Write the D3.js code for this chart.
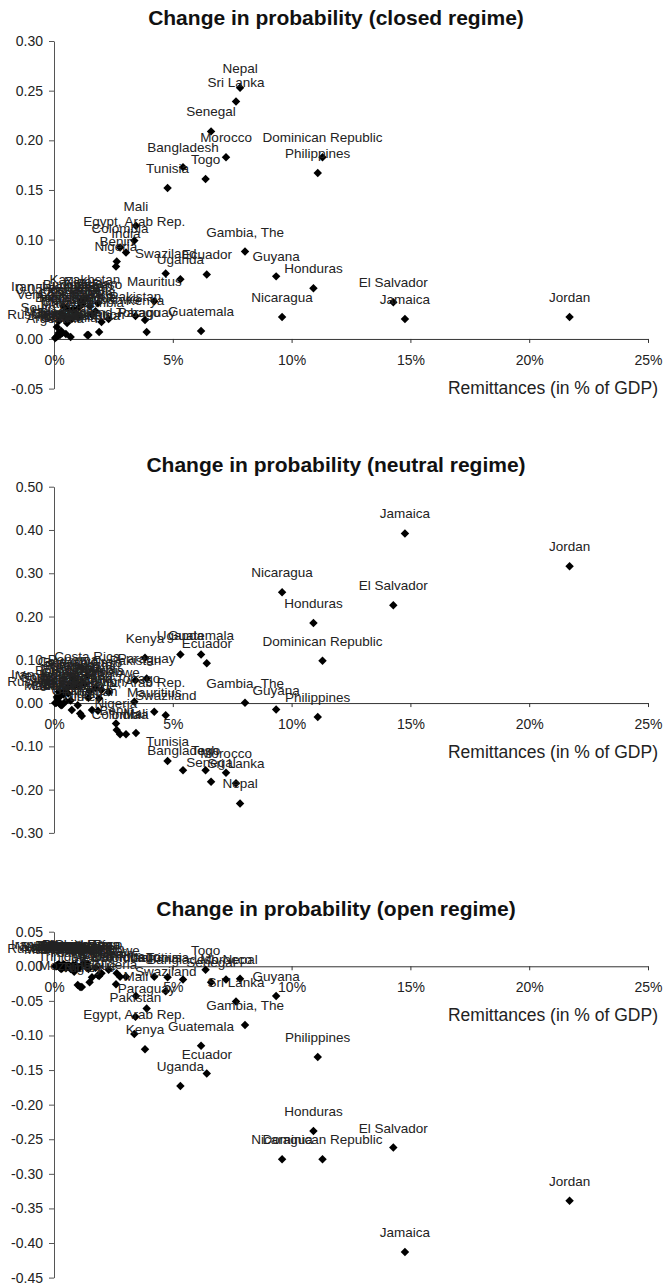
<!DOCTYPE html>
<html>
<head>
<meta charset="utf-8">
<script src="https://d3js.org/d3.v7.min.js"></script>
<style>
  body { margin: 0; background: #fff; }
  text { font-family: "Liberation Sans", Arial, sans-serif; }
</style>
</head>
<body>
<div class="chart"></div>
<script>
var svgWidth = 663;
var svgHeight = 1288;

// countries and remittances (in % of GDP)
var countries = ["Jordan", "Jamaica", "El Salvador", "Dominican Republic", "Philippines", "Honduras",
  "Nicaragua", "Guyana", "Gambia, The", "Nepal", "Sri Lanka", "Morocco", "Senegal", "Ecuador", "Togo",
  "Guatemala", "Bangladesh", "Uganda", "Tunisia", "Swaziland", "Mauritius", "Paraguay", "Kenya", "Mali",
  "Pakistan", "Egypt, Arab Rep.", "India", "Colombia", "Benin", "Nigeria",
  "Algeria", "Argentina", "Bolivia", "Botswana", "Brazil", "Burkina Faso", "Cameroon", "Chile", "China",
  "Costa Rica", "Cote d'Ivoire", "Ghana", "Indonesia", "Iran, Islamic Rep.", "Kazakhstan", "Madagascar",
  "Malawi", "Malaysia", "Mexico", "Mozambique", "Niger", "Panama", "Peru", "Russian Federation", "Rwanda",
  "South Africa", "Sudan", "Tanzania", "Thailand", "Trinidad and Tobago", "Turkey", "Uruguay",
  "Venezuela, RB", "Zambia", "Zimbabwe", "Ethiopia"];

var remittances = [21.7, 14.77, 14.28, 11.3, 11.1, 10.92,
  9.6, 9.35, 8.04, 7.83, 7.66, 7.24, 6.61, 6.43, 6.38,
  6.19, 5.43, 5.32, 4.78, 4.7, 4.22, 3.9, 3.83, 3.45,
  3.43, 3.38, 3.03, 2.78, 2.64, 2.61,
  1.05, 0.05, 1.75, 0.45, 0.25, 1.2, 0.35, 0.1, 0.2,
  1.4, 0.9, 0.75, 0.6, 0.4, 1.3, 0.3,
  0.15, 0.55, 1.6, 1.0, 1.1, 0.8, 1.5, 0.5, 0.65,
  0.12, 1.85, 0.7, 0.85, 1.9, 1.17, 0.2,
  0.3, 2.0, 2.3, 1.45];

// change in probability for each regime
var closedChange = [0.022, 0.020, 0.037, 0.183, 0.167, 0.051,
  0.022, 0.063, 0.088, 0.253, 0.239, 0.183, 0.209, 0.065, 0.161,
  0.008, 0.173, 0.060, 0.152, 0.066, 0.038, 0.007, 0.019, 0.114,
  0.023, 0.099, 0.087, 0.092, 0.078, 0.073,
  0.032, 0.001, 0.028, 0.022, 0.004, 0.035, 0.006, 0.002, 0.018,
  0.004, 0.026, 0.020, 0.030, 0.033, 0.040, 0.008,
  0.003, 0.016, 0.024, 0.022, 0.038, 0.030, 0.033, 0.005, 0.020,
  0.012, 0.036, 0.002, 0.027, 0.007, 0.035, 0.006,
  0.025, 0.017, 0.020, 0.004];

var neutralChange = [0.316, 0.392, 0.226, 0.098, -0.032, 0.185,
  0.256, -0.015, 0.001, -0.232, -0.185, -0.161, -0.182, 0.092, -0.155,
  0.112, -0.155, 0.112, -0.134, -0.028, -0.020, 0.057, 0.105, -0.069,
  0.053, 0.003, -0.072, -0.072, -0.062, -0.047,
  0.040, 0.000, 0.035, 0.030, -0.002, 0.048, -0.004, 0.001, 0.026,
  0.062, 0.052, -0.016, 0.022, 0.020, 0.044, -0.005,
  0.010, 0.034, -0.016, -0.005, -0.024, 0.055, 0.028, 0.004, 0.042,
  0.014, -0.018, 0.006, 0.038, 0.011, -0.030, 0.003,
  0.018, 0.030, 0.025, 0.012];

var openChange = [-0.339, -0.413, -0.262, -0.279, -0.131, -0.238,
  -0.279, -0.043, -0.085, -0.018, -0.051, -0.019, -0.023, -0.155, -0.005,
  -0.115, -0.019, -0.173, -0.016, -0.036, -0.015, -0.061, -0.120, -0.043,
  -0.073, -0.098, -0.015, -0.015, -0.010, -0.026,
  -0.003, 0.000, -0.002, 0.002, -0.002, 0.003, -0.003, 0.000, 0.003,
  0.004, 0.002, -0.003, 0.001, 0.003, 0.004, -0.004,
  0.002, 0.001, -0.016, -0.027, -0.030, 0.002, -0.023, -0.003, 0.001,
  0.001, -0.013, -0.004, -0.008, -0.014, -0.030, 0.000,
  0.001, -0.010, -0.005, -0.004];

// tick labels
var xTicks = [0, 5, 10, 15, 20, 25];
var closedTicks = [-0.05, 0, 0.05, 0.10, 0.15, 0.20, 0.25, 0.30];
var neutralTicks = [-0.30, -0.20, -0.10, 0, 0.10, 0.20, 0.30, 0.40, 0.50];
var openTicks = [-0.45, -0.40, -0.35, -0.30, -0.25, -0.20, -0.15, -0.10, -0.05, 0, 0.05];

var panels = [
  { title: "Change in probability (closed regime)", values: closedChange, ticks: closedTicks,
    top: 41, bottom: 388.6, titleY: 25 },
  { title: "Change in probability (neutral regime)", values: neutralChange, ticks: neutralTicks,
    top: 486.7, bottom: 832.9, titleY: 472 },
  { title: "Change in probability (open regime)", values: openChange, ticks: openTicks,
    top: 931.7, bottom: 1277.6, titleY: 916 }
];

var svg = d3.select(".chart")
  .append("svg")
  .attr("width", svgWidth)
  .attr("height", svgHeight);

var xScale = d3.scaleLinear()
  .domain([0, 25])
  .range([54, 648]);

function drawPanel(p) {
  var g = svg.append("g");

  var yScale = d3.scaleLinear()
    .domain([d3.min(p.ticks), d3.max(p.ticks)])
    .range([p.bottom, p.top]);

  // title
  g.append("text")
    .attr("x", 336)
    .attr("y", p.titleY)
    .attr("text-anchor", "middle")
    .attr("font-size", 21)
    .attr("font-weight", "bold")
    .attr("fill", "#111")
    .text(p.title);

  // y axis
  var leftAxis = d3.axisLeft(yScale)
    .tickValues(p.ticks)
    .tickFormat(d => d.toFixed(2))
    .tickSize(5)
    .tickSizeOuter(0)
    .tickPadding(6);

  var yAxis = g.append("g")
    .attr("transform", `translate(${xScale(0)}, 0)`)
    .call(leftAxis)
    .attr("color", "#555")
    .attr("font-size", 14)
    .attr("font-family", "Liberation Sans, Arial, sans-serif");
  yAxis.selectAll("text").attr("fill", "#222");

  // x axis sits on the zero line
  var bottomAxis = d3.axisBottom(xScale)
    .tickValues(xTicks)
    .tickFormat(d => d + "%")
    .tickSize(4)
    .tickSizeOuter(0)
    .tickPadding(12);

  var xAxis = g.append("g")
    .attr("transform", `translate(0, ${yScale(0)})`)
    .call(bottomAxis)
    .attr("color", "#333")
    .attr("font-size", 14)
    .attr("font-family", "Liberation Sans, Arial, sans-serif");
  xAxis.selectAll("text").attr("fill", "#222");

  // axis title
  g.append("text")
    .attr("x", 658)
    .attr("y", yScale(0) + 55)
    .attr("text-anchor", "end")
    .attr("font-size", 17.5)
    .attr("fill", "#222")
    .text("Remittances (in % of GDP)");

  var idx = d3.range(countries.length);

  // diamonds
  g.selectAll("path.pt")
    .data(idx)
    .enter()
    .append("path")
    .attr("class", "pt")
    .attr("d", d3.symbol(d3.symbolSquare, 36))
    .attr("transform", d => `translate(${xScale(remittances[d])}, ${yScale(p.values[d])}) rotate(45)`)
    .attr("fill", "#000");

  // country labels above each point
  g.selectAll("text.lbl")
    .data(idx)
    .enter()
    .append("text")
    .attr("class", "lbl")
    .attr("x", d => xScale(remittances[d]))
    .attr("y", d => yScale(p.values[d]) - 15)
    .attr("text-anchor", "middle")
    .attr("font-size", 13.5)
    .attr("fill", "#222")
    .text(d => countries[d]);
}

panels.forEach(drawPanel);
</script>
</body>
</html>
